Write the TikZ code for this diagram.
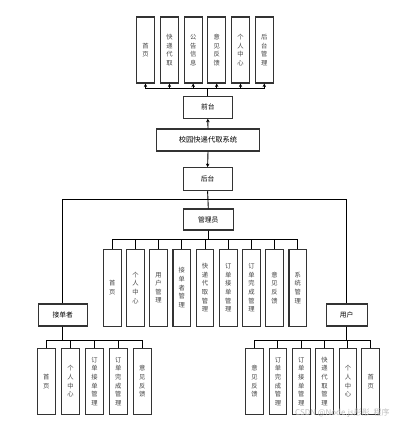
\documentclass[tikz,border=0pt]{standalone}
\usepackage{fontspec}
\newfontfamily\cjk{Noto Sans CJK SC}
\usetikzlibrary{arrows.meta}
\definecolor{bd}{HTML}{333333}
\definecolor{tx}{HTML}{444444}
\begin{document}
\begin{tikzpicture}[x=1pt,y=-1pt,
  vbox/.style={draw=bd,line width=1.1pt,minimum width=17.7pt,inner sep=0pt,align=center,
    font=\cjk\fontsize{6.3}{8.6}\selectfont,text=tx,fill=white},
  hbox/.style={draw=bd,line width=1.1pt,inner sep=0pt,font=\cjk\fontsize{6.8}{8}\selectfont,text=black,fill=white},
  ln/.style={draw=black,line width=0.9pt},
  ar/.style={ln,-{Stealth[length=3.5pt,width=3.5pt]}}
]
\useasboundingbox (0,0) rectangle (414,426);
% top row
\foreach \x/\t/\n in {145.5/{首\\页}/t1,169.5/{快\\递\\代\\取}/t2,193.2/{公\\告\\信\\息}/t3,216.7/{意\\见\\反\\馈}/t4,240.5/{个\\人\\中\\心}/t5,264.3/{后\\台\\管\\理}/t6}
  \node[vbox,minimum height=66pt] (\n) at (\x,50) {\t};
\node[hbox,minimum width=49pt,minimum height=22pt] (qt) at (207.8,107.2) {前台};
\node[hbox,minimum width=102.6pt,minimum height=22pt,font=\cjk\fontsize{7.3}{8}\selectfont] (sys) at (208,140) {校园快递代取系统};
\node[hbox,minimum width=49pt,minimum height=23pt] (ht) at (207.6,179.2) {后台};
\coordinate (tb) at (0,88);
\foreach \n in {t1,t2,t3,t4,t5,t6}
  \draw[ar] (qt.north) -- (qt.north |- tb) -| (\n.south);
\draw[ar] (sys.north) -- (qt.south);
\draw[ar] (sys.south) -- (ht.north);
% admin
\node[hbox,minimum width=50pt,minimum height=21pt] (gl) at (208.3,219.5) {管理员};
\node[hbox,minimum width=49pt,minimum height=22pt] (jd) at (62.8,315) {接单者};
\node[hbox,minimum width=41.3pt,minimum height=22pt] (yh) at (346.7,315) {用户};
\coordinate (hl) at (0,199.3);
\draw[ln] (ht.south) -- (gl.north);
\draw[ln] (jd.north) |- (ht.south |- hl) -| (yh.north);
\coordinate (ab) at (0,239);
\foreach \i/\t in {0/{首\\页},1/{个\\人\\中\\心},2/{用\\户\\管\\理},3/{接\\单\\者\\管\\理},4/{快\\递\\代\\取\\管\\理},5/{订\\单\\接\\单\\管\\理},6/{订\\单\\完\\成\\管\\理},7/{意\\见\\反\\馈},8/{系\\统\\管\\理}}{
  \node[vbox,minimum height=76.7pt] (a\i) at ({112.2+23.2*\i},287.7) {\t};
  \draw[ln] (gl.south) -- (gl.south |- ab) -| (a\i.north);
}
\coordinate (bb) at (0,340);
\foreach \x/\t/\n in {46.2/{首\\页}/j1,70.5/{个\\人\\中\\心}/j2,94.5/{订\\单\\接\\单\\管\\理}/j3,118.2/{订\\单\\完\\成\\管\\理}/j4,142.2/{意\\见\\反\\馈}/j5}{
  \node[vbox,minimum height=66pt] (\n) at (\x,381.3) {\t};
  \draw[ln] (jd.south) -- (jd.south |- bb) -| (\n.north);
}
\foreach \x/\t/\n in {254.5/{意\\见\\反\\馈}/u1,277.9/{订\\单\\完\\成\\管\\理}/u2,301.2/{订\\单\\接\\单\\管\\理}/u3,324.5/{快\\递\\代\\取\\管\\理}/u4,347.9/{个\\人\\中\\心}/u5,370.7/{首\\页}/u6}{
  \node[vbox,minimum height=66pt] (\n) at (\x,381.3) {\t};
  \draw[ln] (yh.south) -- (yh.south |- bb) -| (\n.north);
}
\node[anchor=west,inner sep=0pt,text=black!25,font=\cjk\fontsize{8}{9}\selectfont] (wm) at (295,413.5) {CSDN @Node.js彤彤\ \ 程序};
\end{tikzpicture}
\end{document}
